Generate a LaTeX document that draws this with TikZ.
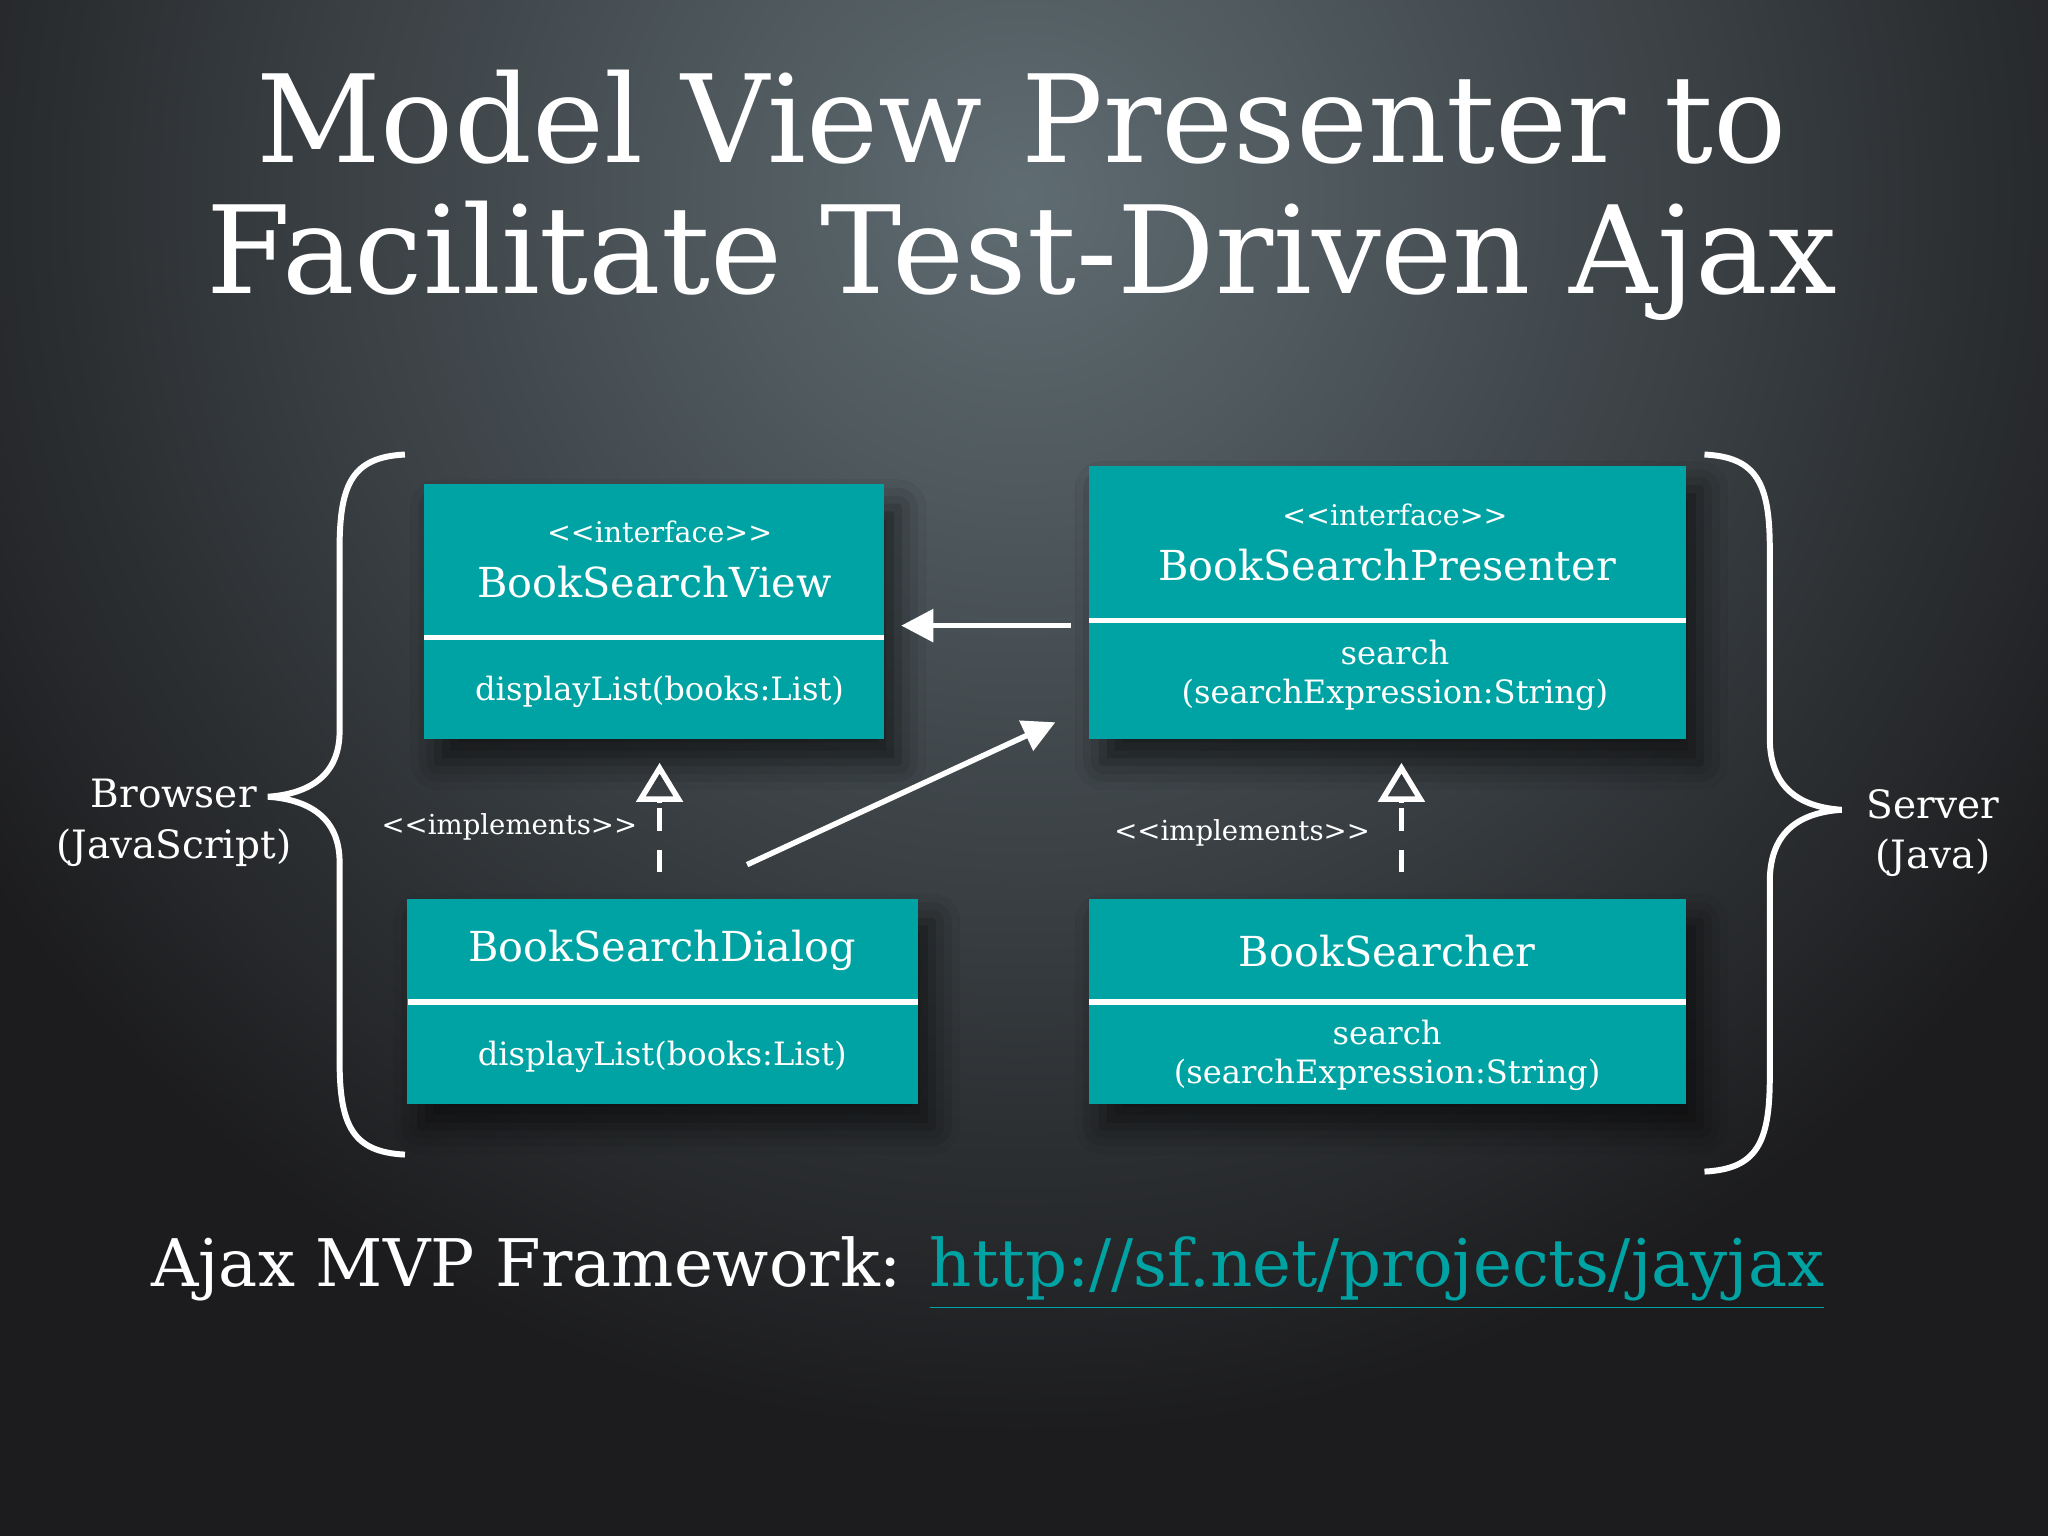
\documentclass[tikz,border=0pt]{standalone}
\usepackage{fontspec}
\setmainfont{DejaVu Serif}
\usetikzlibrary{arrows.meta,shadows.blur}
\definecolor{teal1}{RGB}{0,163,163}
\definecolor{bgdark}{RGB}{28,28,30}
\definecolor{bglight}{RGB}{95,108,114}
\tikzset{
  umlbox/.style={fill=teal1,draw=none,inner sep=0pt,blur shadow={shadow xshift=3pt,shadow yshift=-5pt,shadow blur radius=6pt,shadow opacity=60}},
  divline/.style={white,line width=1.2pt},
  wtext/.style={text=white,align=center,inner sep=0pt},
  brace/.style={white,line width=1.3pt},
  arr/.style={white,line width=1.2pt,-{Triangle[length=7pt,width=7pt]}},
  impl/.style={white,line width=1.2pt,dash pattern=on 5pt off 4pt},
  itip/.style={white,line width=1.2pt,-{Triangle[open,length=8.5pt,width=10pt,line width=1.2pt]}}
}
\begin{document}
\begin{tikzpicture}[x=0.01cm,y=-0.01cm]
\useasboundingbox (0,0) rectangle (1568,1176);
\fill[bgdark] (0,0) rectangle (1568,1176);
\begin{scope}
\clip (0,0) rectangle (1568,1176);
\shade[inner color=bglight,outer color=bgdark] (782,150) circle (950);
\end{scope}
% title
\node[wtext,font=\fontsize{26.5}{30}\selectfont] (t1) at (782,90) {Model View Presenter to};
\node[wtext,font=\fontsize{26.5}{30}\selectfont] (t2) at (782,200) {Facilitate Test-Driven Ajax};
% boxes
\node[umlbox,minimum width=3.52cm,minimum height=1.95cm] (view) at (501,468.5) {};
\node[umlbox,minimum width=4.57cm,minimum height=2.09cm] (pres) at (1062.5,461.5) {};
\node[umlbox,minimum width=3.91cm,minimum height=1.57cm] (dlg) at (507.5,766.5) {};
\node[umlbox,minimum width=4.57cm,minimum height=1.57cm] (srch) at (1062.5,766.5) {};
\draw[divline] (325,488) -- (677,488);
\draw[divline] (834,475) -- (1291,475);
\draw[divline] (312,767) -- (703,767);
\draw[divline] (834,767) -- (1291,767);
% texts
\node[wtext,font=\fontsize{6.2}{8}\selectfont] (vi) at (505,407) {<{}<interface>{}>};
\node[wtext,font=\fontsize{9}{11}\selectfont] (vn) at (501,446) {BookSearchView};
\node[wtext,font=\fontsize{7}{9}\selectfont] (vm) at (505,530) {displayList(books:List)};
\node[wtext,font=\fontsize{6.2}{8}\selectfont] (pi) at (1068,394) {<{}<interface>{}>};
\node[wtext,font=\fontsize{9}{11}\selectfont] (pn) at (1062,433) {BookSearchPresenter};
\node[wtext,font=\fontsize{7}{8.6}\selectfont] (pm) at (1068,517) {search\\(searchExpression:String)};
\node[wtext,font=\fontsize{9}{11}\selectfont] (dn) at (507,728) {BookSearchDialog};
\node[wtext,font=\fontsize{7}{9}\selectfont] (dm) at (507,809) {displayList(books:List)};
\node[wtext,font=\fontsize{9}{11}\selectfont] (sn) at (1062,728) {BookSearcher};
\node[wtext,font=\fontsize{7}{8.6}\selectfont] (sm) at (1062,808) {search\\(searchExpression:String)};
% arrows
\coordinate (pa) at (820,479); \coordinate (va) at (690,479);
\draw[arr] (pa) -- (va);
\coordinate (da) at (572,662); \coordinate (pb) at (808,553);
\draw[arr] (da) -- (pb);
\coordinate (i1a) at (505,668); \coordinate (i1m) at (505,615); \coordinate (i1b) at (505,584);
\draw[impl] (i1a) -- (i1m);
\draw[itip] (i1m) -- (i1b);
\coordinate (i2a) at (1073,668); \coordinate (i2m) at (1073,615); \coordinate (i2b) at (1073,584);
\draw[impl] (i2a) -- (i2m);
\draw[itip] (i2m) -- (i2b);
\node[wtext,font=\fontsize{6}{8}\selectfont] (il1) at (390,633) {<{}<implements>{}>};
\node[wtext,font=\fontsize{6}{8}\selectfont] (il2) at (951,638) {<{}<implements>{}>};
% braces
\draw[brace] (310,348) .. controls (270,350) and (260,370) .. (260,420) -- (260,560) .. controls (260,595) and (235,608) .. (205,610)
  .. controls (235,612) and (260,625) .. (260,660) -- (260,812) .. controls (260,862) and (270,882) .. (310,884);
\draw[brace] (1305,348) .. controls (1345,350) and (1355,370) .. (1355,420) -- (1355,565) .. controls (1355,605) and (1380,618) .. (1410,620)
  .. controls (1380,622) and (1355,635) .. (1355,675) -- (1355,825) .. controls (1355,875) and (1345,895) .. (1305,897);
\node[wtext,font=\fontsize{8.5}{11}\selectfont] (br) at (133,630) {Browser\\(JavaScript)};
\node[wtext,font=\fontsize{8.5}{11}\selectfont] (sv) at (1480,638) {Server\\(Java)};
% footer
\node[text=white,anchor=west,inner sep=0pt,font=\fontsize{14.3}{17}\selectfont] (ft) at (115,975) {Ajax MVP Framework: \textcolor{teal1}{\underline{http://sf.net/projects/jayjax}}};
\end{tikzpicture}
\end{document}
